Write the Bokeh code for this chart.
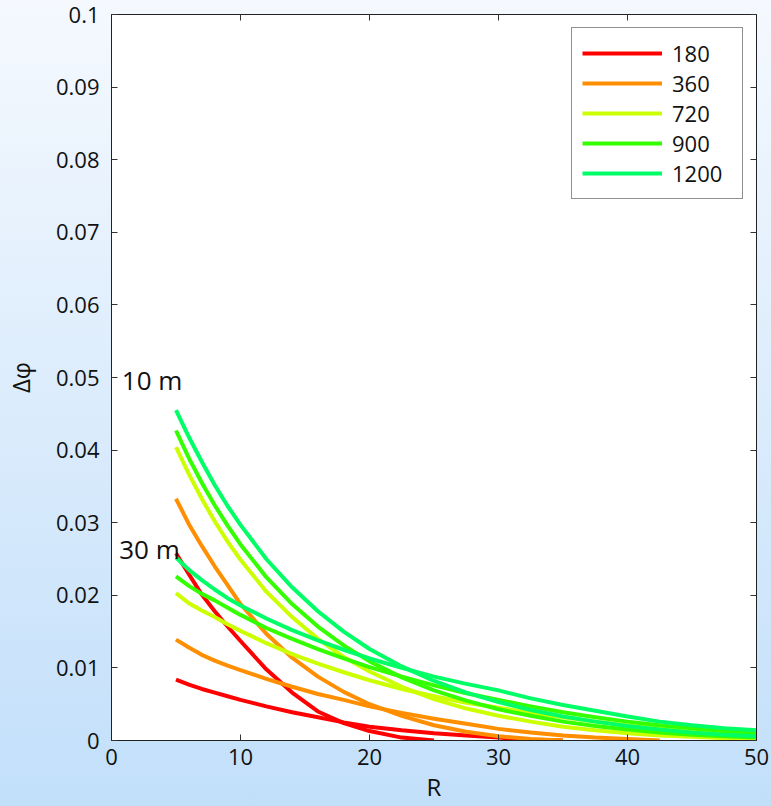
from bokeh.plotting import figure
from bokeh.models import LinearAxis, FixedTicker, Range1d, Label
from bokeh.embed import file_html
from bokeh.resources import INLINE

# ---- data -------------------------------------------------------------
R_grid = [5, 6, 7, 8, 9, 10, 12, 14, 16, 18, 20, 22.5, 25, 27.5, 30,
          32.5, 35, 37.5, 40, 42.5, 45, 47.5, 50]

series_names = ["180", "360", "720", "900", "1200"]
series_colors = ["#ff0000", "#ff8e00", "#ccff00", "#33ff00", "#00ff66"]

# curves for the 10 m case
d10_180 = [0.0258, 0.0229, 0.0201, 0.0178, 0.0157, 0.0137, 0.0098, 0.0066,
           0.0040, 0.0024, 0.0013, 0.0004, 0.0]
d10_360 = [0.0333, 0.0298, 0.0268, 0.0240, 0.0214, 0.0188, 0.0147, 0.0114,
           0.0088, 0.0067, 0.0050, 0.0034, 0.0021, 0.0012, 0.0006, 0.0002, 0.0]
d10_720 = [0.0404, 0.0367, 0.0333, 0.0302, 0.0274, 0.0249, 0.0205, 0.0170,
           0.0140, 0.0115, 0.0095, 0.0074, 0.0057, 0.0044, 0.0034, 0.0026,
           0.0019, 0.0014, 0.0010, 0.0007, 0.0005, 0.0003, 0.0002]
d10_900 = [0.0427, 0.0389, 0.0355, 0.0324, 0.0296, 0.0270, 0.0225, 0.0188,
           0.0157, 0.0131, 0.0109, 0.0087, 0.0069, 0.0055, 0.0043, 0.0034,
           0.0026, 0.0020, 0.0015, 0.0011, 0.0008, 0.0006, 0.0004]
d10_1200 = [0.0455, 0.0418, 0.0384, 0.0352, 0.0323, 0.0297, 0.0250, 0.0211,
            0.0178, 0.0150, 0.0126, 0.0102, 0.0082, 0.0066, 0.0053, 0.0042,
            0.0033, 0.0026, 0.0020, 0.0015, 0.0011, 0.0008, 0.0006]

# curves for the 30 m case
d30_180 = [0.0084, 0.0077, 0.0071, 0.0066, 0.0061, 0.0056, 0.0047, 0.0039,
           0.0032, 0.0025, 0.0019, 0.0014, 0.0010, 0.0007, 0.0004, 0.0001, 0.0]
d30_360 = [0.0139, 0.0128, 0.0118, 0.0110, 0.0103, 0.0097, 0.0085, 0.0074,
           0.0064, 0.0056, 0.0047, 0.0038, 0.0030, 0.0023, 0.0016, 0.0011,
           0.0007, 0.0004, 0.0002, 0.0]
d30_720 = [0.0203, 0.0189, 0.0179, 0.0170, 0.0160, 0.0151, 0.0134, 0.0119,
           0.0106, 0.0094, 0.0083, 0.0071, 0.0061, 0.0052, 0.0045, 0.0038,
           0.0032, 0.0026, 0.0021, 0.0017, 0.0013, 0.0010, 0.0007]
d30_900 = [0.0226, 0.0213, 0.0202, 0.0193, 0.0183, 0.0173, 0.0155, 0.0140,
           0.0126, 0.0113, 0.0101, 0.0088, 0.0076, 0.0065, 0.0056, 0.0047,
           0.0039, 0.0032, 0.0026, 0.0021, 0.0017, 0.0013, 0.0010]
d30_1200 = [0.0252, 0.0235, 0.0221, 0.0208, 0.0196, 0.0186, 0.0168, 0.0152,
            0.0138, 0.0125, 0.0113, 0.0100, 0.0088, 0.0078, 0.0069, 0.0058,
            0.0049, 0.0041, 0.0033, 0.0026, 0.0021, 0.0017, 0.0014]

curves_10 = [d10_180, d10_360, d10_720, d10_900, d10_1200]
curves_30 = [d30_180, d30_360, d30_720, d30_900, d30_1200]

x_ticks = [0, 10, 20, 30, 40, 50]
y_ticks = [0, 0.01, 0.02, 0.03, 0.04, 0.05, 0.06, 0.07, 0.08, 0.09, 0.1]
y_tick_labels = ["0", "0.01", "0.02", "0.03", "0.04", "0.05", "0.06",
                 "0.07", "0.08", "0.09", "0.1"]

FONT = "Open Sans"

# ---- figure -----------------------------------------------------------
p = figure(width=771, height=806, x_range=Range1d(0, 50), y_range=Range1d(0, 0.1),
           output_backend="svg", toolbar_location=None,
           min_border_left=110, min_border_right=15, min_border_top=14,
           min_border_bottom=66)
p.border_fill_alpha = 0
p.styles = {"background": "linear-gradient(180deg, #f5f9fe 0%, #c2dffa 100%)"}
p.background_fill_color = "white"
p.outline_line_color = "#222222"
p.outline_line_width = 1
p.xgrid.visible = False
p.ygrid.visible = False

for ax in p.xaxis:
    ax.ticker = FixedTicker(ticks=x_ticks)
for ax in p.yaxis:
    ax.ticker = FixedTicker(ticks=y_ticks)
    ax.major_label_overrides = dict(zip(y_ticks, y_tick_labels))

for ax in list(p.xaxis) + list(p.yaxis):
    ax.major_tick_in = 6
    ax.major_tick_out = 0
    ax.minor_tick_line_color = None
    ax.major_tick_line_color = "#333333"
    ax.axis_line_color = "#222222"
    ax.major_label_text_font = FONT
    ax.major_label_text_font_size = "22px"
    ax.major_label_text_color = "#111111"
    ax.axis_label_text_font = FONT
    ax.axis_label_text_font_size = "24px"
    ax.axis_label_text_font_style = "normal"
    ax.axis_label_text_color = "#111111"

p.xaxis.axis_label = "R"
p.yaxis.axis_label = "Δφ"
p.xaxis.major_label_standoff = 8
p.xaxis.axis_label_standoff = 2
p.yaxis.major_label_standoff = 12
p.yaxis.axis_label_standoff = 16

# mirrored ticks on the top and right
top_axis = LinearAxis(ticker=FixedTicker(ticks=x_ticks),
                      major_label_overrides={t: "" for t in x_ticks})
right_axis = LinearAxis(ticker=FixedTicker(ticks=y_ticks),
                        major_label_overrides={t: "" for t in y_ticks})
for ax in (top_axis, right_axis):
    ax.major_tick_in = 6
    ax.major_tick_out = 0
    ax.minor_tick_line_color = None
    ax.major_tick_line_color = "#333333"
    ax.axis_line_color = "#222222"
    ax.major_label_standoff = 0
p.add_layout(top_axis, "above")
p.add_layout(right_axis, "right")

# ---- curves -----------------------------------------------------------
for name, color, c10, c30 in zip(series_names, series_colors, curves_10, curves_30):
    p.line(R_grid[:len(c10)], c10, line_color=color, line_width=4,
           line_join="round", legend_label=name)
    p.line(R_grid[:len(c30)], c30, line_color=color, line_width=4,
           line_join="round")

# ---- annotations ------------------------------------------------------
p.add_layout(Label(x=0.8, y=0.0496, text="10 m", text_font=FONT,
                   text_font_size="26px", text_baseline="middle",
                   text_color="#111111"))
p.add_layout(Label(x=0.6, y=0.0264, text="30 m", text_font=FONT,
                   text_font_size="26px", text_baseline="middle",
                   text_color="#111111"))

# ---- legend -----------------------------------------------------------
lg = p.legend[0]
lg.location = "top_right"
lg.margin = 13
lg.padding = 10
lg.spacing = 0
lg.glyph_width = 80
lg.glyph_height = 28
lg.label_height = 28
lg.label_width = 60
lg.label_standoff = 10
lg.label_text_font = FONT
lg.label_text_font_size = "22px"
lg.label_text_color = "#111111"
lg.border_line_color = "#222222"
lg.border_line_width = 1
lg.background_fill_color = "white"
lg.background_fill_alpha = 1

open("out.html", "w").write(file_html(p, INLINE))
